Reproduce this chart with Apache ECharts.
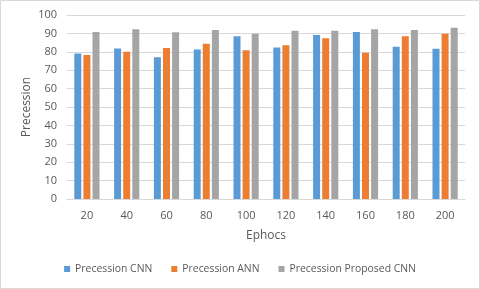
<!DOCTYPE html>
<html><head><meta charset="utf-8">
<script src="https://cdn.jsdelivr.net/npm/echarts@6/dist/echarts.min.js"></script>
<style>html,body{margin:0;padding:0;background:#fff}#c{width:480px;height:289px}</style>
</head><body><div id="c"></div>
<script>
var categories = ['20','40','60','80','100','120','140','160','180','200'];
var cnn = [79.1, 81.8, 77.1, 81.3, 88.4, 82.4, 89.1, 90.7, 82.8, 81.7];
var ann = [78.2, 80.0, 82.0, 84.4, 80.9, 83.5, 87.3, 79.5, 88.4, 89.8];
var proposed = [90.7, 92.2, 90.6, 91.8, 89.8, 91.5, 91.5, 92.2, 91.8, 93.1];
var seriesNames = ['Precession CNN', 'Precession ANN', 'Precession Proposed CNN'];

var chart = echarts.init(document.getElementById('c'), null, {renderer: 'canvas'});
var font = 'Open Sans';
var txt = '#595959';
chart.setOption({
  animation: false,
  textStyle: {fontFamily: font},
  graphic: [{type: 'rect', shape: {x: 0.5, y: 0.5, width: 479, height: 288}, style: {fill: 'none', stroke: '#D9D9D9', lineWidth: 1}, silent: true}],
  grid: {left: 67, right: 15, top: 15, bottom: 90},
  legend: {
    bottom: 10, left: 'center',
    itemWidth: 6, itemHeight: 6, itemGap: 19,
    icon: 'rect',
    textStyle: {color: txt, fontSize: 10.4, fontFamily: font},
    data: seriesNames
  },
  xAxis: {
    type: 'category', data: categories,
    name: 'Ephocs', nameLocation: 'middle', nameGap: 31,
    nameTextStyle: {color: txt, fontSize: 12, fontFamily: font},
    axisLine: {lineStyle: {color: '#D9D9D9'}},
    axisTick: {show: false},
    axisLabel: {color: txt, fontSize: 11, margin: 11, fontFamily: font}
  },
  yAxis: {
    type: 'value', min: 0, max: 100, interval: 10,
    name: 'Precession', nameLocation: 'middle', nameGap: 34, nameMoveOverlap: false,
    nameTextStyle: {color: txt, fontSize: 12, fontFamily: font},
    axisLine: {show: false}, axisTick: {show: false},
    axisLabel: {color: txt, fontSize: 11, margin: 10, fontFamily: font},
    splitLine: {lineStyle: {color: '#D9D9D9'}}
  },
  series: [
    {name: seriesNames[0], type: 'bar', data: cnn, barWidth: 7, barGap: '30%', itemStyle: {color: '#5B9BD5'}},
    {name: seriesNames[1], type: 'bar', data: ann, barWidth: 7, barGap: '30%', itemStyle: {color: '#ED7D31'}},
    {name: seriesNames[2], type: 'bar', data: proposed, barWidth: 7, barGap: '30%', itemStyle: {color: '#A5A5A5'}}
  ]
});
</script></body></html>
